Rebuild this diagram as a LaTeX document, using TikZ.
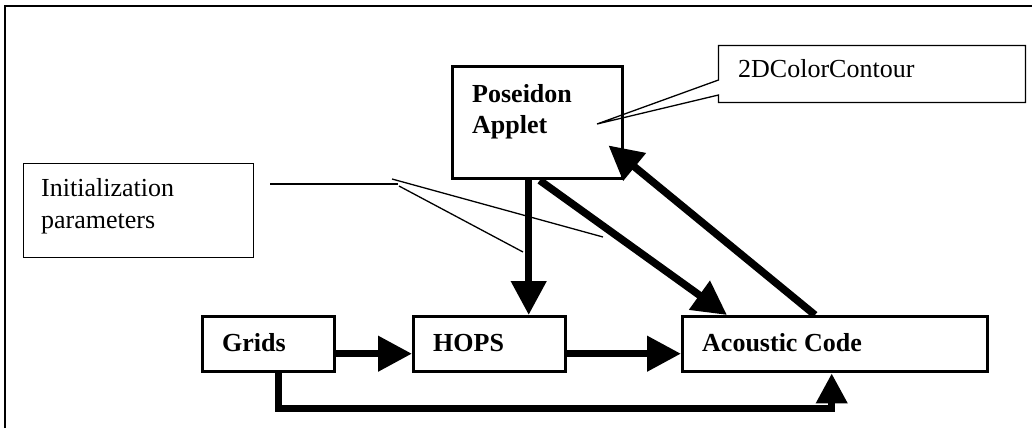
\documentclass[tikz,border=0pt]{standalone}
\usepackage{fontspec}
\setmainfont{Liberation Serif}
\usetikzlibrary{arrows.meta}
\tikzset{
  box/.style={draw, line width=3.4pt, minimum width=#1, inner sep=0pt, anchor=north west},
  note/.style={draw, line width=1.3pt, inner sep=0pt, anchor=north west},
  lbl/.style={anchor=base west, inner sep=0pt, font=\fontsize{26}{31}\selectfont\bfseries},
  nlbl/.style={anchor=base west, inner sep=0pt, font=\fontsize{26}{31}\selectfont},
  arr/.style={line width=7.5pt, -{Triangle[length=34pt,width=34pt]}},
  arrs/.style={line width=7pt, -{Triangle[length=30pt,width=30pt]}},
  thin/.style={line width=1.3pt},
  frame/.style={line width=1.5pt}
}
\begin{document}
\begin{tikzpicture}[x=1pt,y=-1pt]
\useasboundingbox (0,0) rectangle (1032,428);
% outer frame (cut at right and bottom)
\draw[frame] (5,428) -- (5,6) -- (1032,6);

% main boxes
\node[box=170pt, minimum height=112pt] (pos) at (451,65) {};
\node[box=132pt, minimum height=55pt] (grids) at (201,315) {};
\node[box=152pt, minimum height=55pt] (hops) at (412,315) {};
\node[box=305pt, minimum height=55pt] (ac) at (681,315) {};

\node[lbl] (posA) at (472,102) {Poseidon};
\node[lbl] (posB) at (472,133) {Applet};
\node[lbl] (gridsT) at (222,351) {Grids};
\node[lbl] (hopsT) at (433,351) {HOPS};
\node[lbl] (acT) at (702,351) {Acoustic Code};

% note boxes
\node[note, minimum width=230pt, minimum height=94pt] (init) at (22.5,162.5) {};
\node[nlbl] (initA) at (41,196) {Initialization};
\node[nlbl] (initB) at (41,228) {parameters};

\coordinate (cctip) at (597,124);
\coordinate (cc) at (718.5,45.5);
\draw[thin, line join=miter] (cc) -- ++(307,0) -- ++(0,57) -- ++(-307,0) -- ++(0,-7.5)
  -- (cctip) -- (718.5,80) -- cycle;
\node[nlbl] (ccT) at (738,77) {2DColorContour};

% initialization pointer lines
\coordinate (ia) at (270,184);
\coordinate (ib) at (398,184);
\coordinate (ic) at (392,179);
\coordinate (id) at (603,237);
\coordinate (ie) at (399,186);
\coordinate (if) at (523,252);
\draw[thin] (ia) -- (ib);
\draw[thin] (ic) -- (id);
\draw[thin] (ie) -- (if);

% connectors
\draw[arr] ([yshift=-9.5pt]grids.east) -- ([yshift=-9.5pt]hops.west);
\draw[arr] ([yshift=-9.5pt]hops.east) -- ([yshift=-9.5pt]ac.west);
\draw[arr] ([xshift=-9pt]pos.south) -- ([xshift=-9pt]pos.south |- hops.north);
\draw[arr] ([xshift=2pt]pos.south) -- ([xshift=46pt]ac.north west);
\draw[arr] ([xshift=134pt]ac.north west) -- ([xshift=-16pt,yshift=35pt]pos.south east);
\draw[arrs] ([xshift=10pt]grids.south) -- ++(0,35) -| ([xshift=-3.5pt]ac.south);
\end{tikzpicture}
\end{document}
